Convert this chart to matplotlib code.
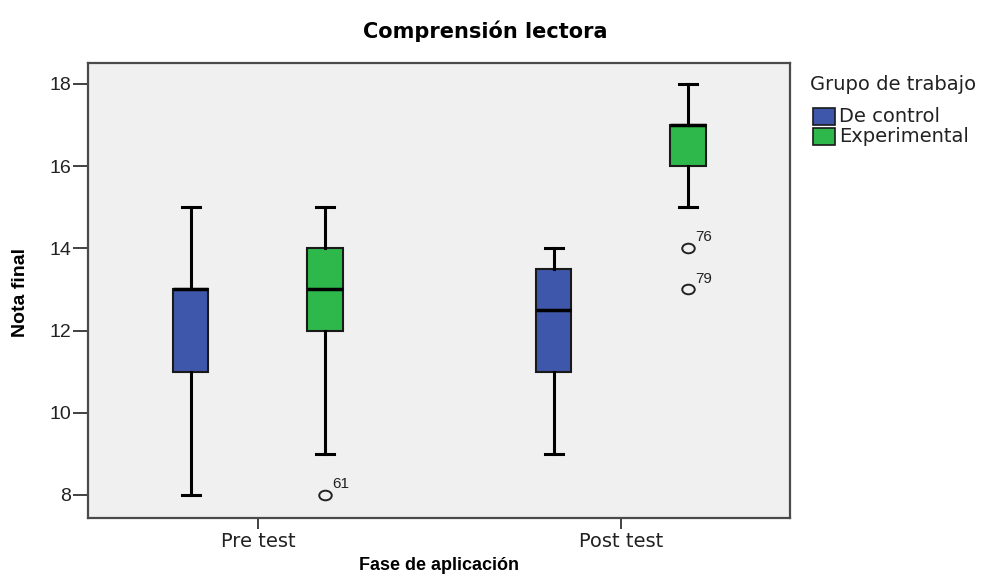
import matplotlib

matplotlib.use("Agg")

import matplotlib.pyplot as plt
from matplotlib.markers import MarkerStyle
from matplotlib.patches import Rectangle
from matplotlib.path import Path
from matplotlib.transforms import Affine2D

plt.rcParams["font.family"] = ["DejaVu Sans"]

# Data
phases = ["Pre test", "Post test"]
groups = ["De control", "Experimental"]
colors = ["#3F57AB", "#2EB84B"]
yticks = [8, 10, 12, 14, 16, 18]

# per phase, per group: (whislo, q1, med, q3, whishi)
control_stats = [(8, 11, 13, 13, 15), (9, 11, 12.5, 13.5, 14)]
experimental_stats = [(9, 12, 13, 14, 15), (15, 16, 17, 17, 18)]

# outliers: (phase index, group index, value, case label)
outliers = [(0, 1, 8, "61"), (1, 1, 14, "76"), (1, 1, 13, "79")]


def make_stats(rows):
    out = []
    for lo, q1, med, q3, hi in rows:
        out.append({"whislo": lo, "q1": q1, "med": med, "q3": q3,
                    "whishi": hi, "fliers": []})
    return out


W, H = 986, 584
fig = plt.figure(figsize=(W / 100, H / 100), dpi=100)
ax = fig.add_axes([88 / W, 1 - 518 / H, 702 / W, 455 / H])
ax.set_facecolor("#F0F0F0")

offset = 0.185
width = 0.097
for gi, stats in enumerate([control_stats, experimental_stats]):
    pos = [i + (offset if gi else -offset) for i in range(len(phases))]
    ax.bxp(make_stats(stats), positions=pos, widths=width,
           patch_artist=True, showfliers=False,
           boxprops=dict(facecolor=colors[gi], edgecolor="#1a1a1a", linewidth=1.5),
           medianprops=dict(color="black", linewidth=2.5),
           whiskerprops=dict(color="black", linewidth=2.2),
           capprops=dict(color="black", linewidth=2.2))

# slightly wide open circle, like the original
oval = MarkerStyle(Path.unit_circle().transformed(Affine2D().scale(1.3, 1.0)))
for pi, gi, val, lab in outliers:
    x = pi + (offset if gi else -offset)
    ax.plot(x, val, marker=oval, ms=9, mfc="none", mec="#222222", mew=1.4)
    ax.annotate(lab, (x, val), xytext=(5, 5), textcoords="offset points",
                fontsize=11, color="#222222", family="Liberation Sans")

ax.set_xlim(-0.468, 1.466)
ax.set_ylim(7.44, 18.51)
ax.set_xticks(range(len(phases)))
ax.set_xticklabels(phases, fontsize=14)
ax.set_yticks(yticks)
ax.set_yticklabels([str(v) for v in yticks], fontsize=14, family="Liberation Sans")
ax.tick_params(axis="both", width=1.3, color="#333333", labelcolor="#222222")
ax.tick_params(axis="x", length=8, pad=2)
ax.tick_params(axis="y", length=11, pad=1)
for s in ax.spines.values():
    s.set_color("#4a4a4a")
    s.set_linewidth(1.6)

ax.set_ylabel("Nota final", fontsize=14, fontweight="bold", family="Liberation Sans")
ax.yaxis.set_label_coords(-0.084, 0.495)
ax.set_xlabel("Fase de aplicación", fontsize=13, fontweight="bold",
              family="Liberation Sans")
ax.xaxis.set_label_coords(0.5, -0.086)
fig.text(485 / W, 1 - 31 / H, "Comprensión lectora", fontsize=15,
         fontweight="bold", ha="center", va="center")

# legend drawn by hand at the right side
fig.text(810 / W, 1 - 84 / H, "Grupo de trabajo", fontsize=14,
         ha="left", va="center", color="#222222")
for i, (c, g) in enumerate(zip(colors, groups)):
    yc = 116 + i * 20
    fig.patches.append(Rectangle((813 / W, 1 - (yc + 9) / H), 22 / W, 17 / H,
                                 transform=fig.transFigure, facecolor=c,
                                 edgecolor="#1a1a1a", linewidth=1.2))
    fig.text(839 / W, 1 - yc / H, g, fontsize=14, ha="left", va="center",
             color="#222222")

fig.savefig("out.png", dpi=100)
